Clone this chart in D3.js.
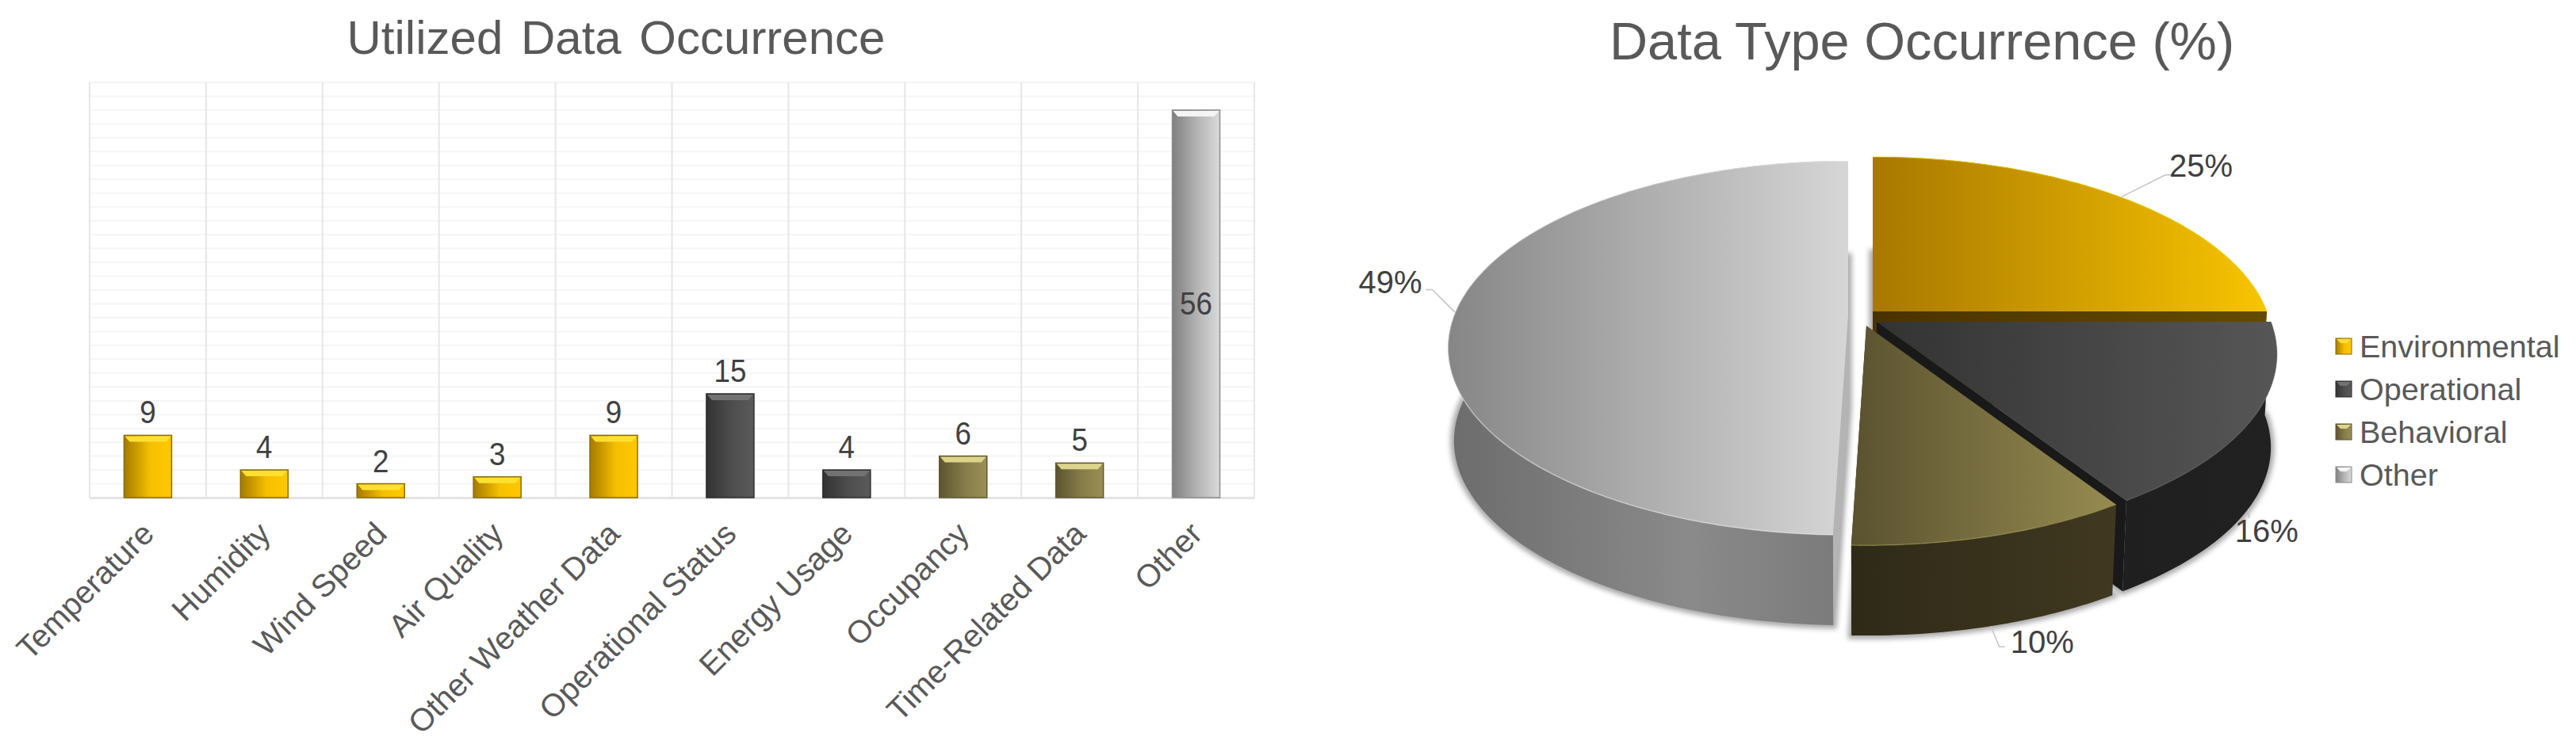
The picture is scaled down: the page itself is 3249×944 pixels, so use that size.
<!DOCTYPE html>
<html>
  <head>
    <meta charset="utf-8">
    <title>Data occurrence</title>
    <script src="https://d3js.org/d3.v7.min.js"></script>
    <style>
      html, body { margin: 0; background: #fff; }
      svg { display: block; font-family: "Liberation Sans", Arial, sans-serif; }
      .title { fill: #595959; text-anchor: middle; }
      .tick text { fill: #595959; font-size: 40px; }
      .value { fill: #404040; font-size: 40px; text-anchor: middle; }
      .pct { fill: #404040; font-size: 40px; text-anchor: middle; }
      .legend { fill: #595959; font-size: 39.5px; }
    </style>
  </head>
  <body>
    <div id="chart"></div>
    <script>
      // bar chart data
      const barLabels = ["Temperature", "Humidity", "Wind Speed", "Air Quality", "Other Weather Data",
        "Operational Status", "Energy Usage", "Occupancy", "Time-Related Data", "Other"];
      const barValues = [9, 4, 2, 3, 9, 15, 4, 6, 5, 56];
      const barGroups = [0, 0, 0, 0, 0, 1, 1, 2, 2, 3];

      // pie chart data, labels show these rounded
      const pieLabels = ["Environmental", "Operational", "Behavioral", "Other"];
      const pieValues = [25, 15.9, 9.6, 49.49];

      // colours per group
      const faceFrom = ["#a87800", "#333333", "#5a5230", "#868686"];
      const faceTo = ["#f8c400", "#565656", "#968b50", "#d6d6d6"];
      const barFrom = ["#a67a00", "#333333", "#5c5430", "#808080"];
      const barTo = ["#ffc800", "#5a5a5a", "#9a8f55", "#dadada"];
      const barMid = [.9, .7, .7, .6];
      const bevelTop = ["#ffe030", "#727272", "#ddd48c", "#f4f4f4"];
      const barEdge = ["#8a6a00", "#2b2b2b", "#5e5730", "#8c8c8c"];
      const wallFrom = ["#4a3200", "#1f1f1f", "#2f2a18", "#6f6f6f"];
      const wallTo = ["#634c00", "#212121", "#403820", "#828282"];
      const radialWall = ["url(#wall0)", "#191919", "#2f2a18", "#b4b4b4"];

      const width = 3249, height = 944;
      const svg = d3.select("#chart").append("svg")
        .attr("width", width)
        .attr("height", height);
      const defs = svg.append("defs");

      function gradient(id, stops) {
        const g = defs.append("linearGradient").attr("id", id);
        stops.forEach(function(s) {
          g.append("stop").attr("offset", s[0]).attr("stop-color", s[1]);
        });
      }
      pieLabels.forEach(function(d, i) {
        gradient("face" + i, [[0, faceFrom[i]], [1, faceTo[i]]]);
        gradient("bar" + i, [[0, barFrom[i]], [.55, d3.interpolateRgb(barFrom[i], barTo[i])(barMid[i])], [1, barTo[i]]]);
        gradient("wall" + i, [[0, wallFrom[i]], [1, wallTo[i]]]);
      });
      // the grey side wall is lighter in the middle
      defs.select("#wall3").selectAll("stop").remove();
      defs.select("#wall3").append("stop").attr("offset", 0).attr("stop-color", "#6c6c6c");
      defs.select("#wall3").append("stop").attr("offset", .6).attr("stop-color", "#8a8a8a");
      defs.select("#wall3").append("stop").attr("offset", 1).attr("stop-color", "#7a7a7a");
      defs.append("filter").attr("id", "soft")
        .attr("x", "-10%").attr("y", "-10%").attr("width", "120%").attr("height", "120%")
        .append("feGaussianBlur").attr("stdDeviation", 3);

      // ---- bar chart ----
      const plot = { left: 113, right: 1582, top: 104, bottom: 628 };
      const x = d3.scaleBand().domain(barLabels).range([plot.left, plot.right]);
      const y = d3.scaleLinear().domain([0, 60]).range([plot.bottom, plot.top]);
      const barWidth = 60;

      svg.append("text")
        .attr("class", "title")
        .attr("x", 777)
        .attr("y", 68)
        .style("font-size", "60px")
        .style("word-spacing", "6px")
        .text("Utilized Data Occurrence");

      const grid = svg.append("g");
      grid.selectAll(".h")
        .data(d3.range(2, 61, 2))
        .enter().append("line")
          .attr("x1", plot.left).attr("x2", plot.right)
          .attr("y1", function(d) { return y(d); })
          .attr("y2", function(d) { return y(d); })
          .attr("stroke", "#f5f5f5")
          .attr("stroke-width", 2);
      grid.selectAll(".v")
        .data(d3.range(0, barLabels.length + 1))
        .enter().append("line")
          .attr("x1", function(d) { return plot.left + d * x.step(); })
          .attr("x2", function(d) { return plot.left + d * x.step(); })
          .attr("y1", plot.top).attr("y2", plot.bottom)
          .attr("stroke", "#e6e6e6")
          .attr("stroke-width", 2);

      const axis = svg.append("g")
        .attr("transform", "translate(0," + plot.bottom + ")")
        .call(d3.axisBottom(x).tickSize(0));
      axis.select(".domain").attr("stroke", "#e4e4e4").attr("stroke-width", 3);
      axis.selectAll("text")
        .attr("font-family", null)
        .attr("text-anchor", "end")
        .attr("dy", null)
        .attr("y", 0)
        .attr("transform", "translate(10,48) rotate(-45)");

      const bars = svg.selectAll(".bar")
        .data(barValues)
        .enter().append("g")
          .attr("class", "bar");
      const barX = function(d, i) { return x(barLabels[i]) + (x.bandwidth() - barWidth) / 2; };
      bars.append("rect")
        .attr("x", barX)
        .attr("y", function(d) { return y(d); })
        .attr("width", barWidth)
        .attr("height", function(d) { return y(0) - y(d); })
        .attr("fill", function(d, i) { return "url(#bar" + barGroups[i] + ")"; })
        .attr("stroke", function(d, i) { return barEdge[barGroups[i]]; })
        .attr("stroke-width", 1.5);
      // bevel on top of each bar
      bars.append("path")
        .attr("d", function(d, i) {
          const l = barX(d, i), t = y(d);
          return d3.line()([[l + 1, t + 1], [l + barWidth - 1, t + 1], [l + barWidth - 7, t + 8], [l + 7, t + 8]]) + "Z";
        })
        .attr("fill", function(d, i) { return bevelTop[barGroups[i]]; });
      // the bar chart was stretched, so its digits are a little narrow
      bars.append("text")
        .attr("class", "value")
        .attr("transform", function(d, i) {
          const tx = x(barLabels[i]) + x.bandwidth() / 2;
          const ty = d > 50 ? y(d / 2) + 14 : y(d) - 15;
          return "translate(" + tx + "," + ty + ") scale(.92,1)";
        })
        .text(function(d) { return d; });

      // ---- pie chart ----
      svg.append("text")
        .attr("class", "title")
        .attr("x", 2424)
        .attr("y", 75)
        .style("font-size", "66.7px")
        .text("Data Type Occurrence (%)");

      // perspective disc: far radius is shorter than near radius
      const rimX = 497, rimY = 229, tilt = .174, depth = 118, shrink = .985;
      function rim(angle, apex, lower) {
        const across = Math.sin(angle), along = -Math.cos(angle), w = 1 - tilt * along;
        const f = lower ? shrink : 1;
        return [apex[0] + f * rimX * across / w, apex[1] + (lower ? depth : 0) + f * rimY * along / w];
      }
      // each slice is pulled out on its own
      const apexes = [[2362, 393], [2367, 406], [2354, 411], [2331, 398]];
      const arcs = d3.pie().sort(null).startAngle(0).endAngle(2 * Math.PI)(pieValues);
      const line = d3.line();
      function samples(d) {
        const n = Math.ceil((d.endAngle - d.startAngle) * 60);
        return d3.range(n + 1).map(function(i) { return d.startAngle + (d.endAngle - d.startAngle) * i / n; });
      }
      // far slice first, then front to back
      const order = [3, 0, 1, 2];
      const ordered = order.map(function(i) { return arcs[i]; });

      // soft shadows sit under all the slices
      svg.selectAll(".shadow")
        .data(ordered)
        .enter().append("path")
          .attr("class", "shadow")
          .attr("d", function(d) {
            const apex = apexes[d.index];
            const pts = samples(d).map(function(a) { return rim(a, apex, true); });
            return line([[apex[0], apex[1] + depth]].concat(pts)) + "Z";
          })
          .attr("fill", "#8c8c8c")
          .attr("stroke", "#8c8c8c")
          .attr("stroke-width", 9)
          .attr("opacity", .75)
          .attr("filter", "url(#soft)");

      const slices = svg.selectAll(".slice")
        .data(ordered)
        .enter().append("g")
          .attr("class", "slice");
      // cut face, only the one turned to the viewer
      slices.append("path")
        .attr("d", function(d) {
          const apex = apexes[d.index];
          const a = d.index == 3 ? d.startAngle : d.endAngle;
          return line([[apex[0], apex[1]], rim(a, apex, false), rim(a, apex, true), [apex[0], apex[1] + depth]]) + "Z";
        })
        .attr("fill", function(d) { return radialWall[d.index]; });
      slices.append("path")
        .attr("d", function(d) {
          const apex = apexes[d.index], angles = samples(d);
          const upper = angles.map(function(a) { return rim(a, apex, false); });
          const lower = angles.slice().reverse().map(function(a) { return rim(a, apex, true); });
          return line(upper.concat(lower)) + "Z";
        })
        .attr("fill", function(d) { return "url(#wall" + d.index + ")"; });
      slices.append("path")
        .attr("d", function(d) {
          const apex = apexes[d.index];
          return line([apex].concat(samples(d).map(function(a) { return rim(a, apex, false); }))) + "Z";
        })
        .attr("fill", function(d) { return "url(#face" + d.index + ")"; });
      // thin highlight along the rim
      slices.append("path")
        .attr("d", function(d) {
          const apex = apexes[d.index];
          return line(samples(d).map(function(a) { return rim(a, apex, false); }));
        })
        .attr("fill", "none")
        .attr("stroke", function(d) { return d3.color(faceTo[d.index]).brighter(.5); })
        .attr("stroke-opacity", .45)
        .attr("stroke-width", 1.5);

      // percent labels, leaders start on the rim at mid angle
      const lowerAnchor = [false, true, true, false];
      const elbow = [[56, -28], [1, 12], [11, 26], [-29, -29]];
      const tail = [8, 0, 7, -8];
      const labelShift = [[101, -26], [23, 42], [65, 34], [-82, -24]];
      arcs.forEach(function(d) {
        const i = d.index, mid = (d.startAngle + d.endAngle) / 2;
        const start = rim(mid, apexes[i], lowerAnchor[i]);
        const bend = [start[0] + elbow[i][0], start[1] + elbow[i][1]];
        svg.append("path")
          .attr("d", line([start, bend, [bend[0] + tail[i], bend[1]]]))
          .attr("fill", "none")
          .attr("stroke", "#c4c4c4")
          .attr("stroke-width", 1.5);
        svg.append("text")
          .attr("class", "pct")
          .attr("x", start[0] + labelShift[i][0])
          .attr("y", start[1] + labelShift[i][1])
          .text(Math.round(d.value) + "%");
      });

      // legend
      const legendRow = d3.scalePoint().domain(pieLabels).range([437, 599]);
      const legend = svg.selectAll(".key")
        .data(pieLabels)
        .enter().append("g")
          .attr("class", "key")
          .attr("transform", function(d) { return "translate(2946," + legendRow(d) + ")"; });
      legend.append("rect")
        .attr("y", -10)
        .attr("width", 20)
        .attr("height", 20)
        .attr("fill", function(d, i) { return "url(#bar" + i + ")"; })
        .attr("stroke", function(d, i) { return barEdge[i]; })
        .attr("stroke-width", 1);
      legend.append("path")
        .attr("d", line([[1, -9], [19, -9], [14, -4], [6, -4]]) + "Z")
        .attr("fill", function(d, i) { return bevelTop[i]; });
      legend.append("text")
        .attr("class", "legend")
        .attr("x", 30)
        .attr("y", 14)
        .text(function(d) { return d; });
    </script>
  </body>
</html>
